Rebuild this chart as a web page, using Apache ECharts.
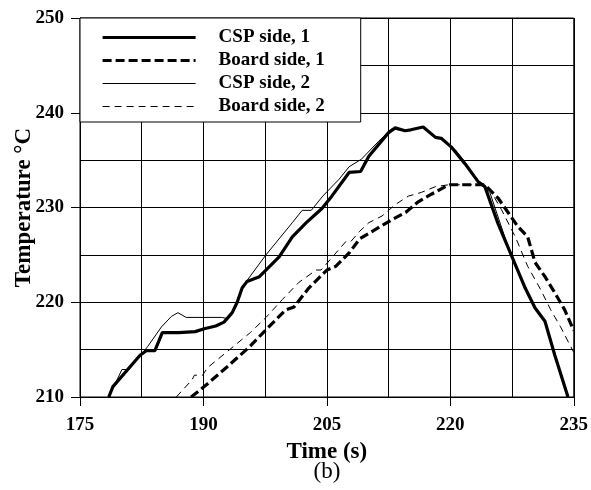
<!DOCTYPE html>
<html><head><meta charset="utf-8">
<script src="https://cdn.jsdelivr.net/npm/echarts@6/dist/echarts.min.js"></script>
<style>html,body{margin:0;padding:0;background:#fff}#c{width:591px;height:490px}</style>
</head><body><div id="c"></div><script>
const seriesNames = ['CSP side, 1', 'Board side, 1', 'CSP side, 2', 'Board side, 2'];
const xTickLabels = ['175', '190', '205', '220', '235'];
const yTickLabels = ['210', '220', '230', '240', '250'];

const csp1Time = [178.5, 179.0, 182.3, 183.1, 184.1, 185.0, 187.0, 189.0, 190.1, 191.5, 192.5, 193.5, 194.1, 194.7, 195.3, 196.8, 199.2, 200.8, 202.5, 204.4, 205.6, 207.7, 209.1, 210.1, 212.5, 213.3, 214.5, 215.2, 216.7, 218.2, 218.9, 220.1, 221.8, 223.4, 224.2, 225.8, 227.4, 229.1, 230.3, 231.5, 232.7, 234.3];
const csp1Temp = [210, 211.1, 214.4, 214.9, 214.9, 216.8, 216.8, 216.9, 217.2, 217.5, 217.9, 218.9, 220.0, 221.5, 222.2, 222.7, 224.8, 226.9, 228.4, 229.9, 231.2, 233.7, 233.8, 235.4, 237.9, 238.4, 238.1, 238.2, 238.5, 237.4, 237.3, 236.4, 234.6, 232.7, 232.2, 228.3, 225.0, 221.5, 219.4, 218.0, 214.4, 210];

const board1Time = [188.5, 190.1, 192.9, 195.6, 197.6, 200.0, 201.0, 202.8, 205.0, 206.1, 207.7, 209.0, 211.5, 212.9, 214.6, 216.1, 217.7, 219.4, 220.0, 224.2, 225.8, 227.0, 228.2, 229.4, 230.3, 231.5, 232.7, 233.9, 235.0];
const board1Temp = [210, 211.1, 213.2, 215.3, 217.1, 219.2, 219.5, 221.5, 223.4, 223.8, 225.2, 226.7, 228.0, 228.7, 229.5, 230.6, 231.4, 232.2, 232.4, 232.4, 231.0, 229.5, 228.0, 226.9, 224.2, 222.7, 221.0, 219.2, 217.0];

const csp2Time = [178.5, 180.1, 180.8, 181.9, 183.2, 184.9, 186.1, 186.9, 187.9, 192.2, 192.8, 193.5, 194.1, 194.7, 197.6, 200.8, 202.0, 203.1, 204.5, 206.5, 207.7, 209.2, 211.3, 212.9, 214.5, 215.2, 216.7, 218.2, 218.9, 220.6, 221.8, 223.4, 224.8, 227.0, 227.4, 229.1, 230.3, 231.5, 232.7, 234.3];
const csp2Temp = [210, 212.9, 212.9, 213.9, 215.3, 217.4, 218.5, 218.9, 218.4, 218.4, 218.3, 219.0, 220.2, 221.6, 225.0, 228.4, 229.7, 229.7, 231.2, 233.0, 234.3, 235.1, 237.0, 238.3, 238.1, 238.2, 238.5, 237.4, 237.3, 236.1, 234.8, 232.8, 231.6, 225.9, 225.0, 221.5, 219.4, 218.0, 214.4, 210];

const board2Time = [186.7, 188.6, 188.9, 189.9, 190.5, 192.9, 195.7, 197.6, 199.6, 201.6, 203.7, 204.3, 206.1, 207.3, 207.9, 209.0, 210.1, 211.7, 213.3, 214.9, 216.5, 218.2, 219.8, 224.2, 225.0, 226.2, 227.9, 229.4, 231.0, 232.2, 233.4, 235.0];
const board2Temp = [210, 211.8, 212.3, 212.3, 213.1, 214.8, 216.8, 218.4, 220.3, 222.1, 223.4, 223.4, 225.2, 226.4, 226.4, 227.5, 228.4, 229.1, 230.3, 231.2, 231.6, 232.2, 232.4, 232.4, 231.6, 229.8, 226.9, 223.8, 221.3, 219.2, 217.4, 214.7];

const FONT = '"Liberation Serif", "Times New Roman", serif';
function pairs(a, b) { return a.map((t, i) => [t, b[i]]); }

const chart = echarts.init(document.getElementById('c'), null, { renderer: 'canvas' });
const black = '#000';
const styles = [
  { width: 3.2, type: 'solid', z: 5 },
  { width: 3.2, type: [9, 4], z: 4 },
  { width: 1, type: 'solid', z: 3 },
  { width: 1, type: [7, 5], z: 3 }
];
function lineSeries(i, t, v) {
  const s = styles[i];
  return {
    name: seriesNames[i], type: 'line', xAxisIndex: 0, yAxisIndex: 0,
    data: pairs(t, v), showSymbol: false, symbol: 'none', smooth: false,
    lineStyle: { color: black, width: s.width, type: s.type },
    itemStyle: { color: black },
    z: s.z, silent: true
  };
}
const option = {
  animation: false,
  backgroundColor: '#fff',
  grid: { left: 80, right: 16, top: 18, bottom: 93, show: true, borderColor: black, borderWidth: 1, backgroundColor: 'transparent' },
  xAxis: [
    { type: 'value', min: 175, max: 235, position: 'top', show: false },
    {
      type: 'value', min: 0, max: 60, interval: 15, position: 'bottom',
      axisLine: { show: true, onZero: false, lineStyle: { color: black, width: 1 } },
      axisTick: { show: true, inside: false, length: 9, lineStyle: { color: black, width: 1 } },
      axisLabel: { margin: 19, color: black, fontFamily: FONT, fontSize: 19, fontWeight: 'bold',
        formatter: v => xTickLabels[Math.round(v / 15)] },
      splitLine: { show: true, lineStyle: { color: black, width: 1 } },
      minorTick: { show: false, splitNumber: 2 },
      minorSplitLine: { show: true, lineStyle: { color: black, width: 1 } },
      name: 'Time (s)', nameLocation: 'middle', nameGap: 44, nameMoveOverlap: false,
      nameTextStyle: { color: black, fontFamily: FONT, fontSize: 23, fontWeight: 'bold' }
    }
  ],
  yAxis: [{
    type: 'value', min: 210, max: 250, interval: 10,
    axisLine: { show: true, onZero: false, lineStyle: { color: black, width: 1 } },
    axisTick: { show: true, inside: false, length: 9, lineStyle: { color: black, width: 1 } },
    axisLabel: { margin: 16, color: black, fontFamily: FONT, fontSize: 19, fontWeight: 'bold',
      formatter: v => yTickLabels[Math.round((v - 210) / 10)] },
    splitLine: { show: true, lineStyle: { color: black, width: 1 } },
    minorTick: { show: false, splitNumber: 2 },
    minorSplitLine: { show: true, lineStyle: { color: black, width: 1 } },
    name: 'Temperature °C', nameLocation: 'middle', nameGap: 44, nameMoveOverlap: false,
    nameTextStyle: { color: black, fontFamily: FONT, fontSize: 23, fontWeight: 'bold' }
  }],
  legend: {
    data: seriesNames.map((n, i) => ({
      name: n,
      itemStyle: { opacity: 0, borderWidth: 0 },
      lineStyle: { color: black, width: styles[i].width, type: styles[i].type, opacity: 1 }
    })),
    orient: 'vertical', left: 80, top: 18,
    itemWidth: 93, itemHeight: 14, itemGap: 4, padding: [10, 36, 6, 21],
    backgroundColor: '#fff', borderColor: black, borderWidth: 1, borderRadius: 0,
    selectedMode: false,
    textStyle: { fontFamily: FONT, fontSize: 19, fontWeight: 'bold', color: black, lineHeight: 19, padding: [0, 0, 0, 18] }
  },
  graphic: [{
    type: 'text', x: 327, y: 472,
    style: { text: '(b)', align: 'center', verticalAlign: 'middle', fontFamily: FONT, fontSize: 23, fill: black }
  }],
  series: [
    lineSeries(0, csp1Time, csp1Temp),
    lineSeries(1, board1Time, board1Temp),
    lineSeries(2, csp2Time, csp2Temp),
    lineSeries(3, board2Time, board2Temp)
  ]
};
chart.setOption(option);
</script></body></html>
